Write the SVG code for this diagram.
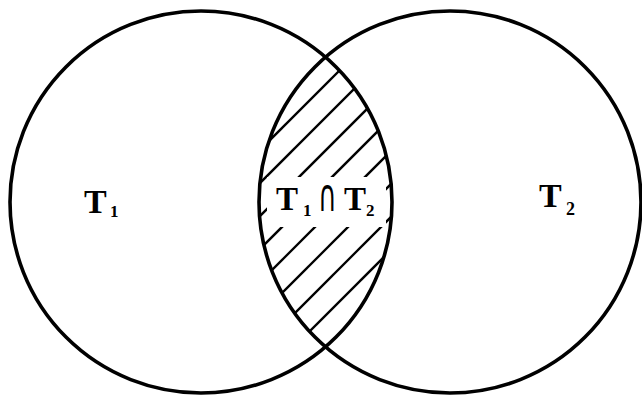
<svg xmlns="http://www.w3.org/2000/svg" width="642" height="395" viewBox="0 0 642 395">
<style>
.ring{fill:none;stroke:#000;stroke-width:3.6}
.hatch{stroke:#000;stroke-width:2.3;fill:none}
.lbl{font-family:"Liberation Serif","DejaVu Serif",serif;font-weight:bold;fill:#000}
.sym{font-family:"DejaVu Sans","Liberation Serif",serif;font-weight:normal;fill:#000}
</style>
<defs>
<clipPath id="cL"><circle cx="201" cy="202" r="191"/></clipPath>
<clipPath id="cR"><circle cx="450" cy="202" r="191"/></clipPath>
<mask id="gap" maskUnits="userSpaceOnUse" x="0" y="0" width="642" height="395">
<rect x="0" y="0" width="642" height="395" fill="#fff"/>
<rect x="267" y="177" width="119" height="50" fill="#000"/>
</mask>
</defs>
<rect width="642" height="395" fill="#fff"/>
<g id="hatching" clip-path="url(#cL)">
<g clip-path="url(#cR)">
<g class="hatch" mask="url(#gap)">
<line x1="150" y1="260" x2="450" y2="-40"/>
<line x1="150" y1="293" x2="450" y2="-7"/>
<line x1="150" y1="326" x2="450" y2="26"/>
<line x1="150" y1="359" x2="450" y2="59"/>
<line x1="150" y1="392" x2="450" y2="92"/>
<line x1="150" y1="425" x2="450" y2="125"/>
<line x1="150" y1="458" x2="450" y2="158"/>
<line x1="150" y1="491" x2="450" y2="191"/>
</g>
</g>
</g>
<g id="T1set">
<circle class="ring" cx="201" cy="202" r="191"/>
<text class="lbl" x="84" y="213" font-size="34">T</text>
<text class="lbl" x="110" y="217" font-size="17">1</text>
</g>
<g id="T2set">
<circle class="ring" cx="450" cy="202" r="191"/>
<text class="lbl" x="539" y="207" font-size="34">T</text>
<text class="lbl" x="566" y="215" font-size="18">2</text>
</g>
<g id="intersection">
<text class="lbl" x="276" y="210" font-size="33">T</text>
<text class="lbl" x="303" y="216" font-size="17">1</text>
<text class="sym" x="0" y="0" font-size="30" transform="translate(318 211) scale(0.85 1.5)">∩</text>
<text class="lbl" x="344" y="210" font-size="33">T</text>
<text class="lbl" x="366" y="216" font-size="17">2</text>
</g>
</svg>
